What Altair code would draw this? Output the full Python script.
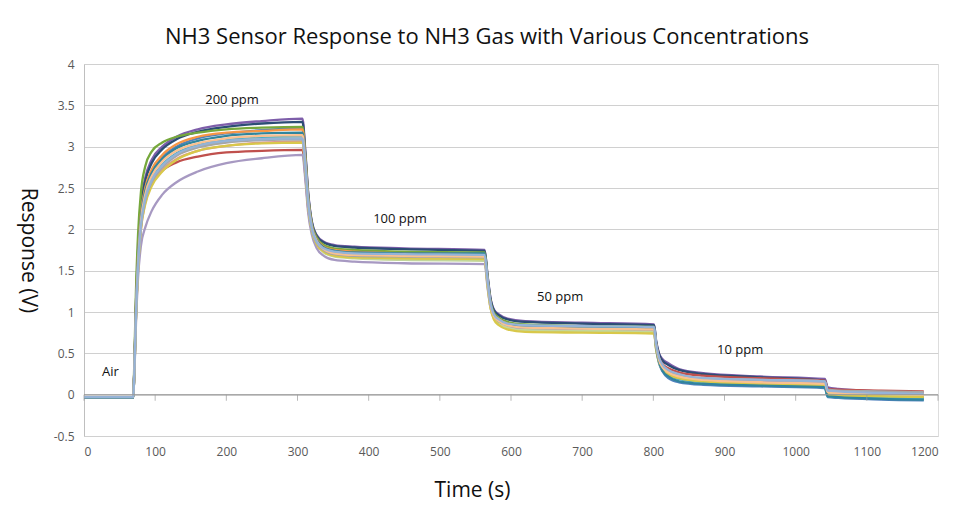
import altair as alt
import pandas as pd

# shared sampling times (s)
T = [0, 69, 71, 73, 76, 80, 86, 95, 110, 130, 160, 200, 250, 307,
     311, 315, 320, 327, 337, 352, 380, 450, 563,
     567, 571, 576, 583, 595, 620, 700, 801,
     804, 808, 813, 821, 836, 870, 950, 1041,
     1045, 1060, 1120, 1180]

S1 = [-0.03, -0.03, 0.4, 1.1, 1.75, 2.3, 2.62, 2.84, 3.0, 3.12, 3.21, 3.27, 3.31, 3.34,
      2.95, 2.45, 2.1, 1.93, 1.85, 1.81, 1.79, 1.77, 1.75,
      1.45, 1.18, 1.03, 0.97, 0.92, 0.89, 0.87, 0.85,
      0.65, 0.5, 0.43, 0.38, 0.31, 0.26, 0.22, 0.19,
      0.09, 0.07, 0.04, 0.02]
S2 = [-0.03, -0.03, 0.4, 1.1, 1.75, 2.26, 2.58, 2.8, 2.97, 3.09, 3.18, 3.24, 3.28, 3.30,
      2.92, 2.43, 2.09, 1.92, 1.84, 1.8, 1.78, 1.76, 1.74,
      1.44, 1.17, 1.02, 0.96, 0.91, 0.88, 0.86, 0.84,
      0.64, 0.49, 0.41, 0.36, 0.3, 0.25, 0.21, 0.17,
      0.07, 0.05, 0.02, 0.0]
S3 = [-0.04, -0.04, 0.35, 1.0, 1.62, 2.15, 2.48, 2.7, 2.87, 3.0, 3.1, 3.16, 3.2, 3.22,
      2.85, 2.38, 2.04, 1.87, 1.79, 1.75, 1.73, 1.71, 1.7,
      1.38, 1.1, 0.94, 0.87, 0.82, 0.79, 0.77, 0.75,
      0.55, 0.38, 0.28, 0.2, 0.15, 0.12, 0.1, 0.08,
      -0.03, -0.04, -0.06, -0.07]
S4 = [-0.03, -0.03, 0.5, 1.25, 1.95, 2.45, 2.76, 2.94, 3.05, 3.12, 3.17, 3.21, 3.23, 3.24,
      2.88, 2.4, 2.07, 1.9, 1.81, 1.77, 1.75, 1.73, 1.72,
      1.42, 1.14, 0.99, 0.93, 0.88, 0.85, 0.83, 0.82,
      0.61, 0.44, 0.35, 0.29, 0.23, 0.18, 0.15, 0.13,
      0.0, -0.01, -0.03, -0.04]
S5 = [-0.03, -0.03, 0.4, 1.05, 1.68, 2.18, 2.5, 2.72, 2.9, 3.03, 3.12, 3.17, 3.19, 3.21,
      2.85, 2.38, 2.05, 1.88, 1.79, 1.75, 1.73, 1.71, 1.7,
      1.4, 1.12, 0.97, 0.91, 0.86, 0.83, 0.81, 0.8,
      0.6, 0.43, 0.33, 0.27, 0.22, 0.18, 0.15, 0.13,
      0.02, 0.01, -0.01, -0.02]
S6 = [-0.03, -0.03, 0.35, 0.95, 1.58, 2.05, 2.35, 2.55, 2.71, 2.81, 2.88, 2.93, 2.95, 2.96,
      2.65, 2.25, 1.98, 1.82, 1.74, 1.7, 1.68, 1.66, 1.65,
      1.35, 1.1, 0.96, 0.9, 0.85, 0.83, 0.81, 0.8,
      0.6, 0.45, 0.37, 0.32, 0.27, 0.23, 0.2, 0.17,
      0.07, 0.06, 0.05, 0.04]
S7 = [-0.03, -0.03, 0.35, 0.95, 1.57, 2.05, 2.38, 2.6, 2.78, 2.92, 3.02, 3.08, 3.11, 3.12,
      2.78, 2.33, 2.02, 1.85, 1.76, 1.72, 1.7, 1.69, 1.68,
      1.37, 1.1, 0.95, 0.88, 0.83, 0.8, 0.79, 0.78,
      0.57, 0.4, 0.3, 0.24, 0.19, 0.15, 0.12, 0.1,
      -0.02, -0.03, -0.04, -0.05]
S8 = [-0.03, -0.03, 0.33, 0.92, 1.52, 2.0, 2.32, 2.54, 2.72, 2.85, 2.95, 3.01, 3.05, 3.06,
      2.74, 2.3, 2.0, 1.83, 1.73, 1.68, 1.66, 1.64, 1.63,
      1.34, 1.09, 0.95, 0.89, 0.84, 0.81, 0.8, 0.79,
      0.59, 0.43, 0.34, 0.28, 0.23, 0.19, 0.17, 0.15,
      0.05, 0.04, 0.03, 0.02]
S9 = [-0.03, -0.03, 0.3, 0.85, 1.42, 1.8, 2.02, 2.22, 2.42, 2.57, 2.7, 2.8, 2.86, 2.9,
      2.6, 2.2, 1.94, 1.77, 1.68, 1.63, 1.61, 1.59, 1.58,
      1.3, 1.06, 0.93, 0.87, 0.82, 0.79, 0.78, 0.77,
      0.57, 0.42, 0.33, 0.27, 0.22, 0.18, 0.16, 0.14,
      0.04, 0.03, 0.02, 0.01]
S10 = [-0.03, -0.03, 0.33, 0.93, 1.55, 2.04, 2.36, 2.58, 2.76, 2.9, 3.0, 3.06, 3.09, 3.1,
       2.76, 2.3, 2.0, 1.83, 1.72, 1.67, 1.65, 1.63, 1.62,
       1.32, 1.06, 0.92, 0.86, 0.81, 0.78, 0.77, 0.76,
       0.55, 0.4, 0.31, 0.26, 0.21, 0.17, 0.14, 0.12,
       0.02, 0.01, 0.0, -0.01]
S11 = [-0.03, -0.03, 0.33, 0.92, 1.52, 2.0, 2.3, 2.52, 2.7, 2.84, 2.95, 3.01, 3.04, 3.05,
       2.73, 2.28, 1.99, 1.82, 1.73, 1.68, 1.66, 1.65, 1.64,
       1.33, 1.06, 0.91, 0.84, 0.79, 0.76, 0.75, 0.74,
       0.54, 0.39, 0.3, 0.24, 0.2, 0.16, 0.13, 0.11,
       0.0, -0.01, -0.02, -0.03]
S12 = [-0.03, -0.03, 0.34, 0.94, 1.55, 2.03, 2.35, 2.57, 2.75, 2.89, 2.99, 3.05, 3.08, 3.09,
       2.76, 2.31, 2.01, 1.84, 1.75, 1.7, 1.68, 1.67, 1.66,
       1.36, 1.1, 0.96, 0.89, 0.84, 0.81, 0.8, 0.79,
       0.59, 0.44, 0.35, 0.29, 0.24, 0.2, 0.18, 0.16,
       0.06, 0.05, 0.04, 0.03]
S13 = [-0.04, -0.04, 0.38, 1.02, 1.66, 2.15, 2.46, 2.68, 2.85, 2.98, 3.07, 3.13, 3.16, 3.17,
       2.82, 2.36, 2.04, 1.87, 1.78, 1.74, 1.72, 1.71, 1.71,
       1.39, 1.11, 0.96, 0.89, 0.85, 0.82, 0.81, 0.81,
       0.58, 0.4, 0.29, 0.22, 0.16, 0.13, 0.11, 0.09,
       -0.02, -0.03, -0.05, -0.06]
S14 = [-0.03, -0.03, 0.36, 0.98, 1.6, 2.1, 2.42, 2.64, 2.82, 2.95, 3.04, 3.1, 3.13, 3.14,
       2.8, 2.34, 2.03, 1.86, 1.76, 1.71, 1.69, 1.68, 1.67,
       1.37, 1.1, 0.95, 0.89, 0.84, 0.81, 0.8, 0.79,
       0.59, 0.42, 0.33, 0.27, 0.22, 0.18, 0.15, 0.13,
       0.03, 0.02, 0.01, 0.0]
S15 = [-0.03, -0.03, 0.35, 0.95, 1.57, 2.05, 2.37, 2.59, 2.77, 2.91, 3.01, 3.07, 3.09, 3.1,
       2.77, 2.32, 2.02, 1.85, 1.77, 1.73, 1.71, 1.7, 1.69,
       1.39, 1.12, 0.97, 0.91, 0.86, 0.84, 0.83, 0.82,
       0.61, 0.45, 0.36, 0.3, 0.25, 0.2, 0.18, 0.16,
       0.05, 0.04, 0.02, 0.01]

SERIES = [S1, S2, S3, S4, S5, S6, S7, S8, S9, S10, S11, S12, S13, S14, S15]
NAMES = [f"Sensor {i+1}" for i in range(len(SERIES))]
COLORS = ["#7E5EAA", "#2C4D75", "#4F81BD", "#76A83C", "#F79646", "#C0504D",
          "#4BACC6", "#D99694", "#A799C2", "#C3D69B", "#D8C84A", "#A6A6A6",
          "#31859C", "#FAC090", "#95B3D7"]

LABELS = ["Air", "200 ppm", "100 ppm", "50 ppm", "10 ppm"]
LABEL_T = [37, 208, 444, 669, 922]
LABEL_V = [0.27, 3.57, 2.12, 1.18, 0.54]

X_TICKS = list(range(0, 1201, 100))
Y_TICKS = [-0.5, 0, 0.5, 1, 1.5, 2, 2.5, 3, 3.5, 4]

FONT = "Open Sans"

rows = []
for name, vals in zip(NAMES, SERIES):
    for t, v in zip(T, vals):
        rows.append({"series": name, "time": t, "resp": v})
df = pd.DataFrame(rows)

xscale = alt.Scale(domain=[0, 1200], nice=False)
yscale = alt.Scale(domain=[-0.5, 4], nice=False)

base_x = alt.X("time:Q", scale=xscale,
               axis=alt.Axis(values=X_TICKS, grid=False, domain=False, ticks=False,
                             labelExpr="'' + datum.value",
                             labelPadding=10, labelFontSize=12, labelColor="#595959",
                             labelFont=FONT, title="Time (s)", titleFont=FONT,
                             titleFontSize=21, titleFontWeight="normal", titleColor="#111111",
                             titleX=388, titleY=54, titleBaseline="middle"))
base_y = alt.Y("resp:Q", scale=yscale,
               axis=alt.Axis(values=Y_TICKS, labelExpr="'' + datum.value",
                             grid=True, gridColor="#D0D0D0", gridWidth=1,
                             domain=True, domainColor="#BFBFBF", ticks=False,
                             labelPadding=10, labelFontSize=12, labelColor="#595959",
                             labelFont=FONT, title="Response (V)", titleFont=FONT,
                             titleFontSize=21, titleFontWeight="normal", titleColor="#111111",
                             titleAngle=90, titleX=-57, titleY=186,
                             titleBaseline="middle", titleAlign="center"))

zero_df = pd.DataFrame({"x0": [0], "x1": [1200], "y": [0]})
zero_line = alt.Chart(zero_df).mark_rule(color="#9A9A9A", strokeWidth=1).encode(
    x=alt.X("x0:Q", scale=xscale), x2="x1:Q", y=alt.Y("y:Q", scale=yscale))

tick_df = pd.DataFrame({"t": X_TICKS, "y": [0] * len(X_TICKS)})
zero_ticks = alt.Chart(tick_df).mark_tick(orient="vertical", size=6, yOffset=3,
                                          color="#9A9A9A", thickness=1).encode(
    x=alt.X("t:Q", scale=xscale), y=alt.Y("y:Q", scale=yscale))

lines = alt.Chart(df).mark_line(strokeWidth=2.3, interpolate="monotone").encode(
    x=base_x, y=base_y,
    color=alt.Color("series:N", scale=alt.Scale(domain=NAMES, range=COLORS), legend=None,
                    sort=NAMES),
)

lab_df = pd.DataFrame({"label": LABELS, "t": LABEL_T, "v": LABEL_V})
labels = alt.Chart(lab_df).mark_text(font=FONT, fontSize=13, color="#111111").encode(
    x=alt.X("t:Q", scale=xscale), y=alt.Y("v:Q", scale=yscale), text="label:N")

chart = alt.layer(lines, zero_line, zero_ticks, labels).properties(
    width=854, height=372,
    title=alt.TitleParams("NH3 Sensor Response to NH3 Gas with Various Concentrations",
                          font=FONT, fontSize=22, fontWeight="normal", color="#111111",
                          anchor="middle", offset=9, dx=-24),
    autosize="none",
    padding={"left": 76, "top": 56, "right": 20, "bottom": 70},
).configure_view(stroke=None).configure(background="white")

chart.save("out.html", embed_options={"renderer": "svg", "actions": False})
